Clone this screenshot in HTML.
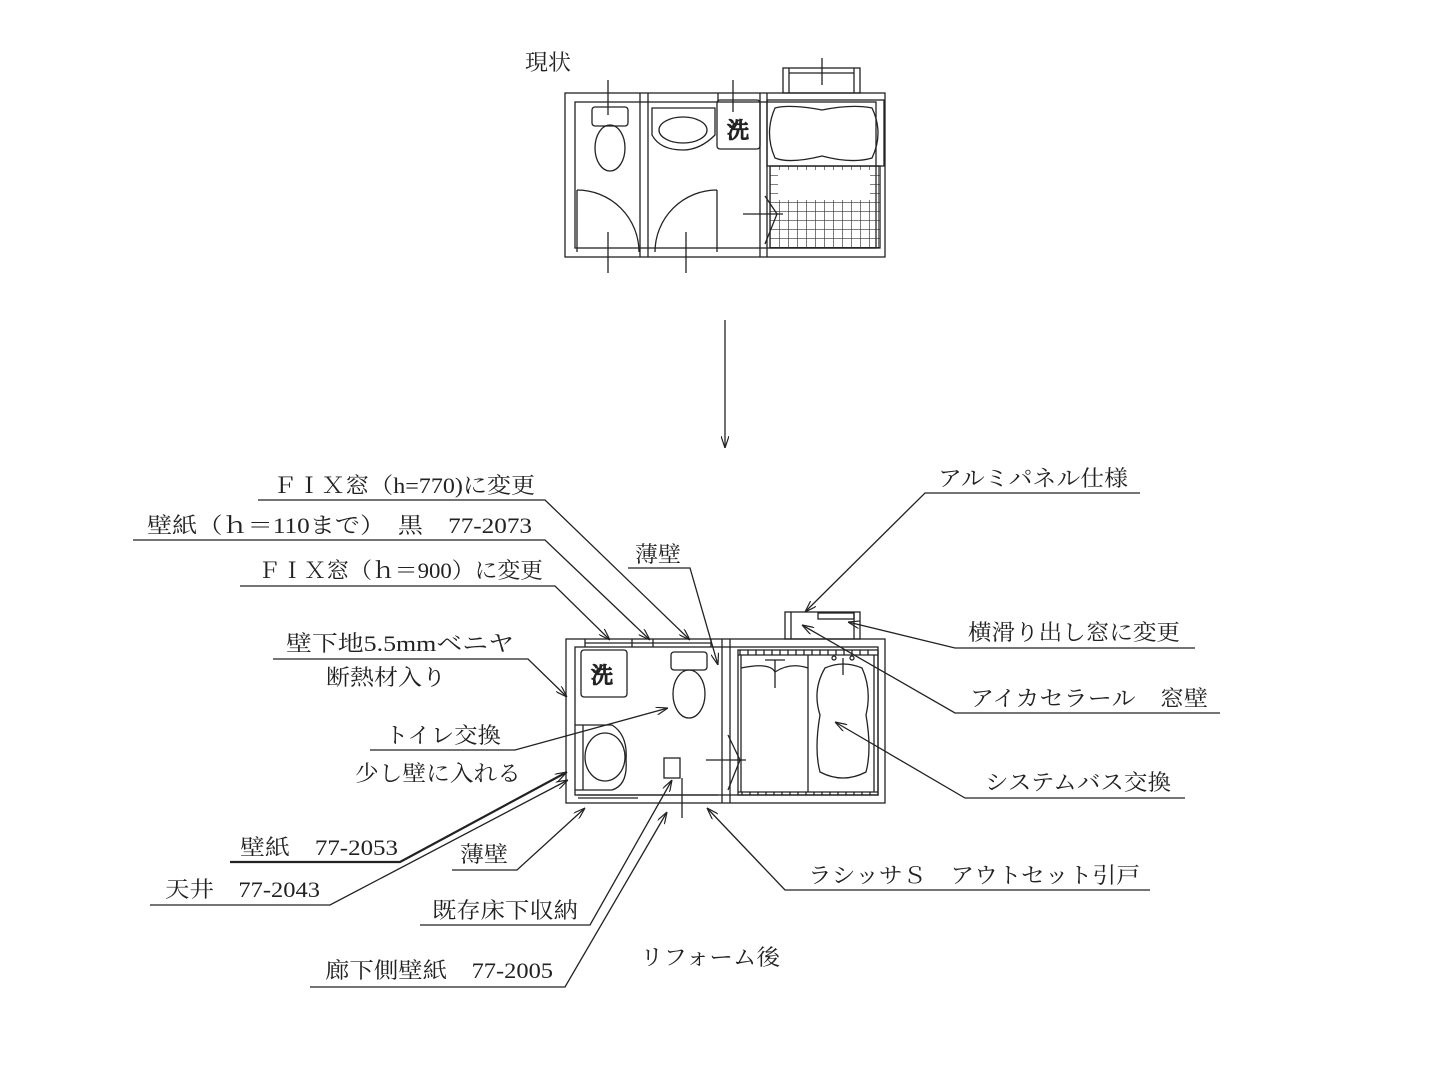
<!DOCTYPE html>
<html><head><meta charset="utf-8"><style>
html,body{margin:0;padding:0;background:#fff;}
svg{display:block}
text{font-family:"Liberation Serif","Noto Serif CJK SC","Noto Sans CJK JP",serif;font-size:22px;fill:#222;}
</style></head><body>
<svg width="1440" height="1080" viewBox="0 0 1440 1080" xmlns="http://www.w3.org/2000/svg">
<defs>
<marker id="ar" viewBox="0 0 12 8" refX="12" refY="4" markerWidth="12" markerHeight="8" orient="auto" markerUnits="userSpaceOnUse">
<path d="M0,0 L12,4 L0,8" fill="none" stroke="#222" stroke-width="1.2"/></marker>
<pattern id="tile" x="770" y="166" width="9" height="9" patternUnits="userSpaceOnUse">
<path d="M0,0 H9 M0,0 V9" stroke="#333" stroke-width="1.3" fill="none"/></pattern>
</defs>
<g stroke="#222" stroke-width="1.3" fill="none">
<rect x="565" y="93" width="320" height="164"/>
<rect x="575" y="102" width="301" height="146"/>
<line x1="640" y1="93" x2="640" y2="257"/><line x1="648" y1="93" x2="648" y2="257"/>
<line x1="760" y1="93" x2="760" y2="257"/><line x1="767" y1="93" x2="767" y2="257"/>
<line x1="718" y1="93" x2="718" y2="102"/>
<rect x="783" y="68" width="77" height="25"/><line x1="789" y1="68" x2="789" y2="93"/><line x1="854" y1="68" x2="854" y2="93"/>
<line x1="789" y1="73" x2="854" y2="73"/>
<line x1="822" y1="58" x2="822" y2="85"/>
<rect x="592" y="107" width="36" height="19" rx="3"/>
<ellipse cx="610" cy="148" rx="15" ry="23"/>
<line x1="608" y1="80" x2="608" y2="115"/>
<path d="M652,108 H715 V135 Q700,150 683,150 Q660,150 652,135 Z"/>
<ellipse cx="683" cy="130" rx="24" ry="13"/>
<rect x="717" y="100" width="43" height="49" rx="3"/>
<text x="727" y="138" style="font-size:22px">洗</text>
<line x1="733" y1="80" x2="733" y2="112"/>
<rect x="767" y="100" width="117" height="66"/>
<path d="M775,108 Q790,104 822,110 Q852,104 872,108 Q884,133 872,158 Q852,164 822,156 Q790,164 775,158 Q764,133 775,108 Z"/>
<rect x="770" y="166" width="110" height="82" fill="url(#tile)"/>
<rect x="778" y="170" width="92" height="30" fill="#fff" stroke="none"/>
<path d="M765,196 L777,214 L765,244"/>
<line x1="743" y1="214" x2="783" y2="214"/>
<line x1="577" y1="190" x2="577" y2="252"/><path d="M577,190 A62,62 0 0 1 639,252"/>
<line x1="717" y1="190" x2="717" y2="252"/><path d="M717,190 A62,62 0 0 0 655,252"/>
<line x1="608" y1="232" x2="608" y2="273"/><line x1="686" y1="232" x2="686" y2="273"/>
<line x1="725" y1="320" x2="725" y2="448" marker-end="url(#ar)"/>

<rect x="566" y="639" width="319" height="164"/>
<rect x="575" y="647" width="303" height="148"/>
<line x1="722" y1="639" x2="722" y2="803"/><line x1="730" y1="639" x2="730" y2="803"/>
<line x1="585" y1="639" x2="585" y2="647"/><line x1="632" y1="639" x2="632" y2="647"/><line x1="653" y1="639" x2="653" y2="647"/><line x1="711" y1="639" x2="711" y2="647"/>
<line x1="585" y1="643" x2="711" y2="643"/>
<rect x="785" y="612" width="75" height="27"/><line x1="791" y1="612" x2="791" y2="639"/><line x1="854" y1="612" x2="854" y2="639"/>
<rect x="818" y="613" width="36" height="6"/>
<rect x="738" y="650" width="140" height="145"/>
<line x1="738" y1="655" x2="878" y2="655"/><line x1="738" y1="792" x2="878" y2="792"/>
<path d="M740,650 V655 M748,650 V655 M756,650 V655 M764,650 V655 M772,650 V655 M780,650 V655 M788,650 V655 M796,650 V655 M804,650 V655 M812,650 V655 M820,650 V655 M828,650 V655 M836,650 V655 M844,650 V655 M852,650 V655 M860,650 V655 M868,650 V655"/>
<path d="M742,792 V795 M750,792 V795 M758,792 V795 M766,792 V795 M774,792 V795 M782,792 V795 M790,792 V795 M798,792 V795 M806,792 V795 M814,792 V795 M822,792 V795 M830,792 V795 M838,792 V795 M846,792 V795 M854,792 V795 M862,792 V795 M870,792 V795"/>
<line x1="741" y1="655" x2="741" y2="792"/><line x1="874" y1="655" x2="874" y2="792"/>
<line x1="808" y1="655" x2="808" y2="792"/>
<path d="M741,668 Q770,662 775,672 Q790,662 808,668"/>
<line x1="765" y1="660" x2="785" y2="660"/><line x1="775" y1="660" x2="775" y2="688"/>
<path d="M825,668 Q843,660 862,668 Q872,690 866,715 Q872,750 866,772 Q843,784 820,772 Q814,750 820,715 Q812,690 825,668 Z"/>
<line x1="843" y1="658" x2="843" y2="675"/><circle cx="834" cy="658" r="2"/><circle cx="852" cy="658" r="2"/>
<path d="M728,735 L740,760 L728,790"/>
<line x1="706" y1="760" x2="746" y2="760"/>
<rect x="581" y="650" width="46" height="47" rx="3"/>
<text x="591" y="683" style="font-size:22px">洗</text>
<rect x="671" y="652" width="36" height="18" rx="3"/>
<ellipse cx="689" cy="694" rx="16" ry="24"/>
<path d="M575,725 H612 Q628,735 626,760 Q628,785 612,790 H575"/>
<ellipse cx="605" cy="757" rx="20" ry="24"/>
<line x1="583" y1="725" x2="583" y2="790"/>
<rect x="664" y="758" width="16" height="20"/>
<line x1="682" y1="778" x2="682" y2="818"/>
<line x1="578" y1="795" x2="718" y2="795"/><line x1="578" y1="798" x2="638" y2="798"/>

<polyline points="258,500 545,500 690,640" marker-end="url(#ar)"/>
<polyline points="133,540 545,540 650,640" marker-end="url(#ar)"/>
<polyline points="628,568 690,568 718,665" marker-end="url(#ar)"/>
<polyline points="240,586 555,586 610,640" marker-end="url(#ar)"/>
<polyline points="273,659 528,659 567,697" marker-end="url(#ar)"/>
<polyline points="370,750 515,750 668,708" marker-end="url(#ar)"/>
<polyline points="230,862 400,862 567,772" marker-end="url(#ar)" stroke-width="2.2"/>
<polyline points="150,905 330,905 568,780" marker-end="url(#ar)"/>
<polyline points="452,870 517,870 585,808" marker-end="url(#ar)"/>
<polyline points="420,925 590,925 672,780" marker-end="url(#ar)"/>
<polyline points="310,987 565,987 667,812" marker-end="url(#ar)"/>
<polyline points="1150,890 785,890 707,808" marker-end="url(#ar)"/>
<polyline points="1185,798 965,798 835,722" marker-end="url(#ar)"/>
<polyline points="1220,713 955,713 802,625" marker-end="url(#ar)"/>
<polyline points="1195,648 955,648 848,622" marker-end="url(#ar)"/>
<polyline points="1140,493 925,493 805,612" marker-end="url(#ar)"/>
</g>
<g>
<text x="525" y="70" textLength="46" lengthAdjust="spacingAndGlyphs">現状</text>
<text x="273" y="493" textLength="262" lengthAdjust="spacingAndGlyphs">ＦＩＸ窓（h=770)に変更</text>
<text x="147" y="533" textLength="385" lengthAdjust="spacingAndGlyphs">壁紙（ｈ＝110まで）　黒　77-2073</text>
<text x="635" y="562" textLength="46" lengthAdjust="spacingAndGlyphs">薄壁</text>
<text x="258" y="578" textLength="285" lengthAdjust="spacingAndGlyphs">ＦＩＸ窓（ｈ＝900）に変更</text>
<text x="286" y="651" textLength="228" lengthAdjust="spacingAndGlyphs">壁下地5.5mmベニヤ</text>
<text x="326" y="685" textLength="120" lengthAdjust="spacingAndGlyphs">断熱材入り</text>
<text x="385" y="743" textLength="116" lengthAdjust="spacingAndGlyphs">トイレ交換</text>
<text x="355" y="781" textLength="166" lengthAdjust="spacingAndGlyphs">少し壁に入れる</text>
<text x="240" y="855" textLength="158" lengthAdjust="spacingAndGlyphs">壁紙　77-2053</text>
<text x="165" y="897" textLength="155" lengthAdjust="spacingAndGlyphs">天井　77-2043</text>
<text x="460" y="862" textLength="48" lengthAdjust="spacingAndGlyphs">薄壁</text>
<text x="432" y="918" textLength="146" lengthAdjust="spacingAndGlyphs">既存床下収納</text>
<text x="325" y="978" textLength="228" lengthAdjust="spacingAndGlyphs">廊下側壁紙　77-2005</text>
<text x="640" y="965" textLength="140" lengthAdjust="spacingAndGlyphs">リフォーム後</text>
<text x="808" y="883" textLength="332" lengthAdjust="spacingAndGlyphs">ラシッサＳ　アウトセット引戸</text>
<text x="985" y="790" textLength="186" lengthAdjust="spacingAndGlyphs">システムバス交換</text>
<text x="970" y="706" textLength="238" lengthAdjust="spacingAndGlyphs">アイカセラール　窓壁</text>
<text x="968" y="640" textLength="212" lengthAdjust="spacingAndGlyphs">横滑り出し窓に変更</text>
<text x="938" y="486" textLength="190" lengthAdjust="spacingAndGlyphs">アルミパネル仕様</text>
</g>
</svg>
</body></html>
